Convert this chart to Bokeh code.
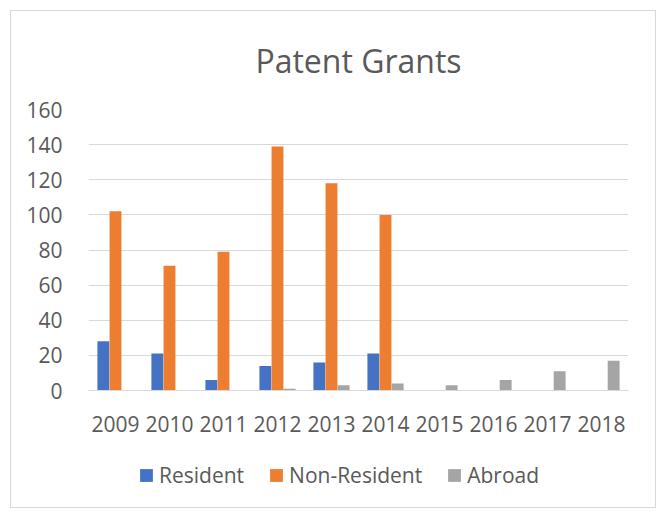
from bokeh.plotting import figure
from bokeh.models import ColumnDataSource, FactorRange, Legend, LegendItem, Title
from bokeh.layouts import column
from bokeh.transform import dodge
from bokeh.embed import file_html
from bokeh.resources import INLINE

years = ["2009", "2010", "2011", "2012", "2013", "2014", "2015", "2016", "2017", "2018"]
resident = [28, 21, 6, 14, 16, 21, 0, 0, 0, 0]
non_resident = [102, 71, 79, 139, 118, 100, 0, 0, 0, 0]
abroad = [0, 0, 0, 1, 3, 4, 3, 6, 11, 17]
y_ticks = [0, 20, 40, 60, 80, 100, 120, 140, 160]
series_names = ["Resident", "Non-Resident", "Abroad"]
series_fields = ["resident", "non_resident", "abroad"]
colors = ["#4472c4", "#ed7d31", "#a5a5a5"]

src = ColumnDataSource(dict(years=years, resident=resident, non_resident=non_resident, abroad=abroad))

font = "Open Sans"
p = figure(x_range=FactorRange(*years, range_padding=0), y_range=(0, 160),
           width=644, height=439, output_backend="svg", toolbar_location=None,
           min_border_left=77, min_border_right=27, min_border_top=98, min_border_bottom=60)

p.title = Title(text="Patent Grants", align="center", vertical_align="top",
                text_font=font, text_font_size="32px",
                text_color="#595959", text_font_style="normal", offset=0, standoff=52)

w = 0.22
for field, c, off in zip(series_fields, colors, [-0.225, 0.0, 0.225]):
    p.vbar(x=dodge("years", off, range=p.x_range), top=field, width=w, source=src,
           fill_color=c, line_color=None)

p.outline_line_color = None
p.xgrid.grid_line_color = None
p.ygrid.grid_line_color = "#d9d9d9"
p.ygrid.grid_line_width = 1
p.yaxis.ticker = y_ticks
p.yaxis.axis_line_color = None
p.yaxis.major_tick_line_color = None
p.yaxis.minor_tick_line_color = None
p.yaxis.major_label_standoff = 20
p.xaxis.axis_line_color = "#d9d9d9"
p.xaxis.major_tick_line_color = None
p.xaxis.minor_tick_line_color = None
p.xaxis.major_label_standoff = 19
for ax in (p.xaxis, p.yaxis):
    ax.major_label_text_font = font
    ax.major_label_text_font_size = "21px"
    ax.major_label_text_color = "#595959"

# legend strip below the chart (proxy renderers are hidden; legend draws their swatches)
p2 = figure(width=644, height=57, output_backend="svg", toolbar_location=None,
            x_axis_type=None, y_axis_type=None, min_border=0, outline_line_color=None)
p2.grid.grid_line_color = None
items = []
for name, field, c in zip(series_names, series_fields, colors):
    r = p2.vbar(x=field, top=field, width=0.1, source=src, fill_color=c, line_color=None,
                visible=False)
    items.append(LegendItem(label=name, renderers=[r]))
legend = Legend(items=items, orientation="horizontal", location=(50, 18),
                label_text_font=font, label_text_font_size="21px", label_text_color="#595959",
                glyph_width=16, glyph_height=16, spacing=24, label_standoff=5,
                border_line_color=None, background_fill_alpha=0, padding=0, margin=0,
                inactive_fill_alpha=0)
p2.add_layout(legend, "center")

layout = column(p, p2, spacing=0)
layout.styles = {"border": "1px solid #d9d9d9", "margin-left": "10px", "margin-top": "10px",
                 "background-color": "white"}

open("out.html", "w").write(file_html(layout, INLINE))
